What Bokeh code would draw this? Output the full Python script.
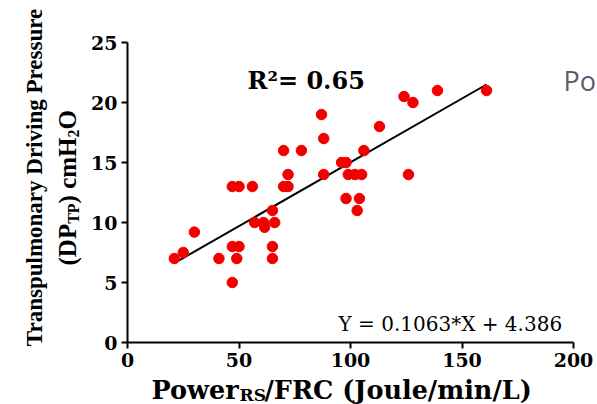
import math
from bokeh.plotting import figure
from bokeh.models import Range1d, FixedTicker, Label, LinearAxis
from bokeh.embed import file_html
from bokeh.resources import INLINE

# ---- data ----
power_frc = [21, 25, 30, 41, 47, 50, 49, 47, 47, 50, 56, 57, 61, 61.5, 66, 65, 65, 65,
             70, 72, 72, 70, 78, 87, 88, 88, 96, 98, 99, 102, 105, 98, 104, 103, 106,
             113, 124, 128, 139, 161, 126]
dp_tp = [7, 7.5, 9.2, 7, 8, 8, 7, 5, 13, 13, 13, 10, 10, 9.6, 10, 11, 8, 7,
         13, 13, 14, 16, 16, 19, 17, 14, 15, 15, 14, 14, 14, 12, 12, 11, 16,
         18, 20.5, 20, 21, 21, 14]
slope = 0.1063
intercept = 4.386
r_squared = 0.65
x_ticks = [0, 50, 100, 150, 200]
y_ticks = [0, 5, 10, 15, 20, 25]

W, H = 597, 404
# pixel placement of the axes' data box on the canvas
PX0, PX1 = 127, 573     # x = 0 .. 200
PY0, PY1 = 342, 42      # y = 0 .. 25
sx = (PX1 - PX0) / (x_ticks[-1] - x_ticks[0])
sy = (PY0 - PY1) / (y_ticks[-1] - y_ticks[0])

p = figure(width=W, height=H, output_backend="svg", toolbar_location=None,
           x_axis_location=None, y_axis_location=None,
           x_range=Range1d(-PX0 / sx, (W - PX0) / sx),
           y_range=Range1d((PY0 - H) / sy, PY0 / sy),
           min_border=0)
p.outline_line_color = None
p.xgrid.visible = False
p.ygrid.visible = False
p.background_fill_color = "white"
p.border_fill_color = "white"

xax = LinearAxis(fixed_location=0, bounds=(x_ticks[0], x_ticks[-1]),
                 ticker=FixedTicker(ticks=x_ticks))
yax = LinearAxis(fixed_location=0, bounds=(y_ticks[0], y_ticks[-1]),
                 ticker=FixedTicker(ticks=y_ticks))
for ax in (xax, yax):
    ax.axis_line_width = 2
    ax.axis_line_color = "black"
    ax.major_tick_line_width = 2
    ax.major_tick_line_color = "black"
    ax.major_tick_out = 6
    ax.major_tick_in = 0
    ax.minor_tick_line_color = None
    ax.major_label_text_font = "DejaVu Serif"
    ax.major_label_text_font_style = "bold"
    ax.major_label_text_font_size = "19px"
    ax.major_label_text_color = "black"
    ax.major_label_standoff = 4
p.add_layout(xax, "below")
p.add_layout(yax, "left")


def dx(px):
    return (px - PX0) / sx


def dy(py):
    return (PY0 - py) / sy


# regression line
x0, x1 = min(power_frc), max(power_frc)
p.line([x0, x1], [slope * x0 + intercept, slope * x1 + intercept],
       line_color="black", line_width=2)
p.scatter(power_frc, dp_tp, size=10.5, fill_color="#f20000", line_color="#f20000")


def lab(text, px, py, size, font="DejaVu Serif", style="bold", angle=0.0,
        align="left", color="black"):
    p.add_layout(Label(x=dx(px), y=dy(py), text=text, angle=angle,
                       text_font=font, text_font_style=style,
                       text_font_size=f"{size}px", text_align=align,
                       text_baseline="alphabetic", text_color=color))


# R^2 annotation
lab(f"R\u00b2= {r_squared:.2f}", 247, 80, 24)
# equation
lab(f"Y = {slope}*X + {intercept}", 338, 323, 20, style="normal")
# side text (cut by the slide edge in the source)
lab("Po", 563, 80, 27, font="Open Sans", style="normal", color="#56606b")

# x axis label
xb = 389
lab("Power", 151, xb, 25.5)
lab("RS", 239, xb + 5, 17)
lab("/FRC (Joule/min/L)", 264, xb, 25.5)

# y axis label (rotated, reads bottom to top)
A = math.pi / 2
lab("Transpulmonary Driving Pressure", 34, 177, 23, font="Liberation Serif",
    angle=A, align="center")
yb = 67
lab("(DP", yb, 265, 25, font="Liberation Serif", angle=A)
lab("TP", yb + 6, 223.3, 16, font="Liberation Serif", angle=A)
lab(") cmH", yb, 202.9, 25, font="Liberation Serif", angle=A)
lab("2", yb + 6, 136.9, 16, font="Liberation Serif", angle=A)
lab("O", yb, 128.9, 25, font="Liberation Serif", angle=A)

open("out.html", "w").write(file_html(p, INLINE))
